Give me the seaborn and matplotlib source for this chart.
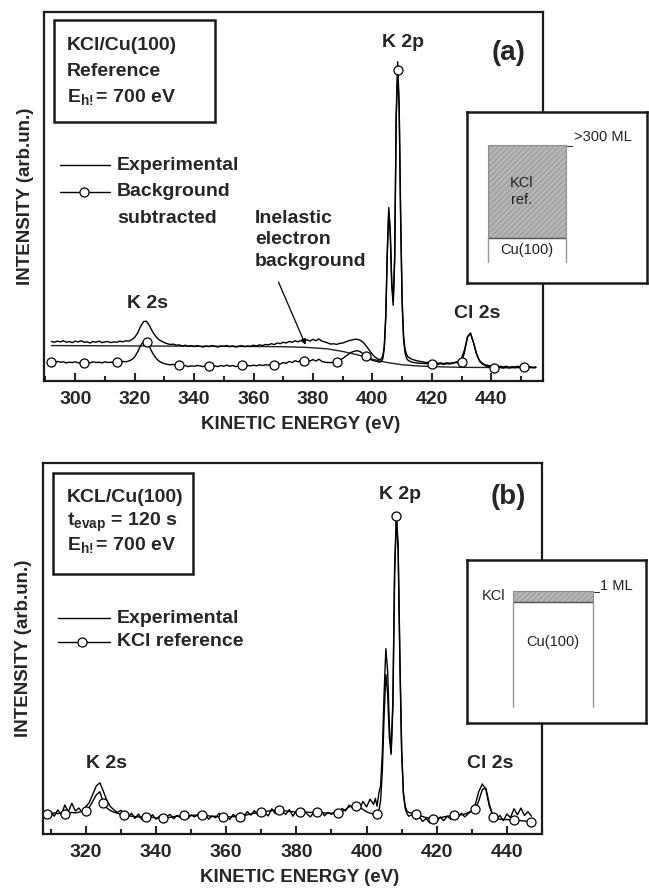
import numpy as np
import matplotlib
matplotlib.use("Agg")
import matplotlib.pyplot as plt
import seaborn as sns
from matplotlib.patches import Rectangle
from matplotlib.lines import Line2D
from matplotlib.ticker import MultipleLocator

# ---------------- data: panel (a), KCl reference film ----------------
energy_a = np.concatenate([np.arange(292, 402, 1.0),
                           np.arange(402, 412, 0.5),
                           np.arange(412, 456, 1.0)])

experimental_a = [
    10.7, 10.5, 10.8, 10.6, 10.9, 10.5, 10.7, 10.4, 10.8, 10.6,   # 292-301
    10.9, 10.5, 10.6, 10.3, 10.7, 10.5, 10.8, 10.4, 10.6, 10.7,   # 302-311
    10.4, 10.6, 10.5, 10.8, 10.6, 10.9, 10.8, 11.2, 11.8, 13.0,   # 312-321
    14.8, 16.1, 16.2, 15.0, 13.4, 12.2, 11.3, 10.8, 10.4, 10.1,   # 322-331
    9.9, 10.0, 9.7, 9.8, 9.5, 9.7, 9.4, 9.6, 9.3, 9.6,            # 332-341
    9.4, 9.2, 9.5, 9.3, 9.6, 9.4, 9.2, 9.5, 9.4, 9.6,             # 342-351
    9.3, 9.5, 9.2, 9.4, 9.6, 9.3, 9.5, 9.4, 9.7, 9.5,             # 352-361
    9.8, 9.6, 9.9, 9.8, 10.1, 9.9, 10.3, 10.1, 10.5, 10.3,        # 362-371
    10.7, 10.5, 10.9, 10.6, 11.0, 10.7, 11.2, 10.8, 11.3, 10.9,   # 372-381
    11.4, 10.8, 10.6, 10.3, 10.0, 10.1, 9.9, 10.2, 10.3, 10.6,    # 382-391
    10.9, 11.1, 11.3, 11.3, 11.0, 10.4, 9.4, 8.3, 7.2, 6.4,       # 392-401
    5.9, 5.8, 6.0, 6.8, 9.5, 18.0, 35.0, 47.0, 41.0, 27.0,        # 402-406.5
    21.5, 34.0, 72.0, 86.5, 75.0, 45.0, 22.0, 12.0, 8.5, 7.2,     # 407-411.5
    6.5, 6.0, 5.7, 5.5, 5.3, 5.2, 5.0, 5.1, 4.9, 5.0,             # 412-421
    4.8, 4.9, 4.7, 4.9, 4.8, 4.9, 5.1, 5.4, 6.2, 8.5,             # 422-431
    12.0, 13.0, 10.5, 7.5, 5.6, 4.8, 4.4, 4.2, 4.0, 4.1,          # 432-441
    3.9, 4.0, 3.8, 4.0, 3.7, 3.9, 3.8, 4.0, 3.7, 3.9,             # 442-451
    3.6, 3.9, 3.7, 3.8,                                           # 452-455
]

subtracted_a = [
    5.2, 5.0, 5.3, 5.1, 5.2, 4.9, 5.1, 5.0, 5.2, 4.9,
    5.1, 4.8, 5.0, 4.9, 5.2, 5.0, 5.1, 4.9, 5.2, 5.0,
    5.1, 5.0, 5.2, 5.0, 5.3, 5.2, 5.4, 5.8, 6.5, 7.9,
    9.6, 10.7, 10.6, 9.3, 7.6, 6.4, 5.5, 5.0, 4.7, 4.5,
    4.4, 4.5, 4.2, 4.3, 4.0, 4.2, 3.9, 4.1, 4.0, 4.2,
    4.1, 3.9, 4.2, 4.0, 4.2, 4.1, 3.9, 4.2, 4.0, 4.3,
    4.0, 4.2, 3.9, 4.1, 4.3, 4.0, 4.2, 4.1, 4.3, 4.1,
    4.4, 4.2, 4.4, 4.3, 4.6, 4.4, 4.8, 4.6, 5.0, 4.8,
    5.3, 5.0, 5.5, 5.2, 5.6, 5.3, 5.8, 5.4, 5.8, 5.4,
    5.9, 5.3, 5.1, 5.0, 5.0, 5.1, 5.2, 5.6, 6.1, 6.7,
    7.3, 7.8, 8.1, 8.2, 7.9, 7.2, 6.7, 6.0, 5.6, 5.4,
    5.2, 5.1, 5.3, 6.0, 8.8, 17.0, 34.0, 46.0, 40.0, 26.0,
    20.5, 33.0, 71.0, 84.3, 74.0, 44.0, 21.0, 11.0, 7.5, 6.2,
    5.6, 5.2, 5.0, 4.9, 4.8, 4.8, 4.7, 4.8, 4.6, 4.7,
    4.5, 4.7, 4.5, 4.7, 4.6, 4.8, 5.0, 4.9, 5.2, 7.8,
    11.9, 12.9, 10.4, 7.4, 5.4, 4.6, 4.1, 3.9, 3.6, 3.6,
    3.5, 3.7, 3.5, 3.7, 3.5, 3.7, 3.6, 3.8, 3.6, 3.8,
    3.6, 3.8, 3.6, 3.7,
]

background_energy_a = [292, 320, 350, 370, 378, 385, 390, 395, 400, 405, 410, 415, 420, 430, 455]
background_a = [9.6, 9.5, 9.4, 9.3, 9.1, 8.7, 8.0, 7.1, 5.9, 5.0, 4.4, 4.1, 3.9, 3.7, 3.6]

markers_a = [292, 303, 314, 324, 335, 345, 356, 367, 377, 388, 398, 408.5, 420, 430, 441, 451]

# ---------------- data: panel (b), 120 s evaporation ----------------
energy_b = np.concatenate([np.arange(309, 402, 1.0),
                           np.arange(402, 412, 0.5),
                           np.arange(412, 448, 1.0)])

experimental_b = [
    5.0, 5.9, 4.8, 6.5, 5.2, 7.8, 6.0, 8.3, 6.2, 7.0,             # 309-318
    5.8, 7.4, 8.5, 10.8, 13.0, 13.8, 11.5, 9.0, 7.4, 6.5,         # 319-328
    5.8, 6.4, 5.2, 4.6, 5.6, 4.2, 5.4, 3.9, 5.0, 4.3,             # 329-338
    5.2, 4.0, 4.8, 3.7, 4.6, 5.3, 4.1, 5.0, 4.4, 5.5,             # 339-348
    4.2, 5.1, 4.6, 5.4, 4.3, 5.2, 4.0, 4.9, 4.4, 5.6,             # 349-358
    4.3, 5.0, 3.9, 5.3, 4.5, 5.7, 4.8, 6.0, 5.1, 6.3,             # 359-368
    5.2, 6.5, 5.6, 4.9, 6.8, 5.5, 7.2, 6.0, 5.3, 6.6,             # 369-378
    4.8, 6.2, 5.0, 6.7, 5.4, 4.6, 5.9, 5.1, 6.3, 4.9,             # 379-388
    5.8, 5.3, 6.1, 5.5, 6.9, 6.2, 7.8, 7.0, 8.4, 6.9,             # 389-398
    8.8, 7.3, 9.4,                                                # 399-401
    8.0, 9.6, 7.5, 11.0, 13.0, 22.0, 38.0, 50.0, 44.0, 29.0,      # 402-406.5
    22.0, 36.0, 72.0, 86.0, 78.0, 48.0, 23.0, 11.0, 7.0, 5.5,     # 407-411.5
    4.8, 5.2, 4.0, 4.6, 3.4, 4.2, 3.0, 4.4, 3.3, 4.6,             # 412-421
    3.6, 4.8, 4.0, 5.2, 4.4, 5.6, 4.6, 5.5, 6.4, 8.0,             # 422-431
    11.5, 13.5, 12.0, 7.5, 5.2, 4.0, 5.0, 3.6, 5.4, 4.4,          # 432-441
    6.8, 5.2, 7.0, 5.0, 6.0, 4.8,                                 # 442-447
]

reference_b = [
    5.4, 5.5, 5.7, 5.5, 5.6, 5.4, 5.6, 5.8, 5.7, 5.9,
    6.1, 6.3, 7.2, 8.9, 10.6, 11.4, 8.4, 7.0, 6.3, 5.9,
    5.6, 5.3, 5.0, 4.9, 4.8, 4.7, 4.6, 4.5, 4.5, 4.4,
    4.5, 4.3, 4.4, 4.2, 4.4, 4.5, 4.7, 4.8, 4.9, 5.0,
    4.9, 5.0, 5.1, 4.9, 5.0, 4.8, 4.9, 4.7, 4.8, 4.6,
    4.6, 4.7, 4.6, 4.7, 4.6, 4.6, 4.9, 5.2, 5.4, 5.6,
    5.7, 5.8, 6.0, 6.2, 6.3, 6.4, 6.5, 6.4, 6.2, 6.1,
    6.0, 5.9, 5.9, 5.8, 5.9, 5.8, 5.9, 5.9, 5.8, 5.7,
    5.6, 5.6, 5.5, 5.6, 6.0, 6.6, 7.3, 7.7, 7.6, 7.2,
    6.6, 6.0, 5.6,
    5.4, 5.3, 5.4, 6.2, 9.0, 17.0, 32.0, 43.0, 38.0, 26.0,
    21.5, 34.0, 70.0, 85.8, 76.0, 46.0, 22.0, 11.0, 7.5, 6.2,
    5.8, 5.6, 5.4, 5.0, 4.7, 4.4, 4.2, 4.0, 4.2, 4.4,
    4.6, 4.8, 4.9, 5.0, 5.1, 5.2, 5.4, 5.8, 6.2, 6.7,
    9.0, 12.0, 12.4, 8.0, 4.6, 4.2, 4.0, 3.9, 3.9, 3.8,
    3.8, 3.7, 3.6, 3.5, 3.4, 3.3,
]

markers_b = [309, 314, 320, 325, 331, 337, 342, 348, 353, 359, 364, 370, 375,
             381, 386, 392, 397, 403, 408.5, 414, 419, 425, 431, 436, 442, 447]

xlim_a = (289.5, 457.4)
xlim_b = (307.7, 450.0)

# ---------------- style ----------------
sns.set_style("ticks")
plt.rcParams["font.family"] = ["Liberation Sans", "DejaVu Sans"]
plt.rcParams["font.weight"] = "bold"
plt.rcParams["mathtext.fontset"] = "custom"
plt.rcParams["mathtext.rm"] = "Liberation Sans:bold"
plt.rcParams["mathtext.it"] = "Liberation Sans:bold"
plt.rcParams["mathtext.bf"] = "Liberation Sans:bold"

W, H = 649, 890
fig = plt.figure(figsize=(W / 100, H / 100), dpi=100)


def fx(px):
    return px / W


def fy(py):
    return 1 - py / H


def add_axes_px(x0, y0, x1, y1, **kw):
    return fig.add_axes([fx(x0), fy(y1), (x1 - x0) / W, (y1 - y0) / H], **kw)


def nearest_index(energy, targets):
    return [int(np.argmin(np.abs(energy - t))) for t in targets]


def fig_text(px, py, s, **kw):
    kw.setdefault("fontsize", 14)
    kw.setdefault("fontweight", "bold")
    kw.setdefault("va", "center")
    kw.setdefault("ha", "left")
    return fig.text(fx(px), fy(py), s, **kw)


def fig_line(xs, ys, **kw):
    ln = Line2D([fx(x) for x in xs], [fy(y) for y in ys], transform=fig.transFigure, **kw)
    fig.add_artist(ln)
    return ln


def fig_rect(x0, y0, x1, y1, **kw):
    r = Rectangle((fx(x0), fy(y1)), (x1 - x0) / W, (y1 - y0) / H,
                  transform=fig.transFigure, **kw)
    fig.add_artist(r)
    return r


def style_axes(ax, xlim):
    ax.set_xlim(*xlim)
    ax.set_ylim(0, 100)
    ax.set_yticks([])
    ax.xaxis.set_major_locator(MultipleLocator(20))
    ax.xaxis.set_minor_locator(MultipleLocator(10))
    ax.tick_params(axis="x", which="major", direction="in", length=6, width=1.5,
                   labelsize=14, pad=7, top=False)
    ax.tick_params(axis="x", which="minor", direction="in", length=3.5, width=1.5, top=False)
    for lab in ax.get_xticklabels():
        lab.set_fontweight("bold")
    for sp in ax.spines.values():
        sp.set_linewidth(1.6)
        sp.set_color("#1a1a1a")
        sp.set_visible(True)
    ax.set_xlabel("KINETIC ENERGY (eV)", fontsize=13.5, fontweight="bold")
    ax.xaxis.set_label_coords(0.515, -0.117)
    ax.set_ylabel("INTENSITY (arb.un.)", fontsize=13.5, fontweight="bold")
    ax.yaxis.set_label_coords(-0.038, 0.5)
    ax.xaxis.label.set_va("center")
    ax.yaxis.label.set_va("center")


marker_kw = dict(marker="o", markersize=6.5, markerfacecolor="white",
                 markeredgecolor="black", markeredgewidth=0.9)

# ---------------- panel (a) ----------------
ax_a = add_axes_px(44, 12, 543, 381)
sns.lineplot(x=background_energy_a, y=background_a, ax=ax_a, color="#222222",
             lw=1.0, estimator=None, sort=False)
sns.lineplot(x=energy_a, y=experimental_a, ax=ax_a, color="black", lw=1.0,
             estimator=None, sort=False)
sns.lineplot(x=energy_a, y=subtracted_a, ax=ax_a, color="black", lw=1.0,
             estimator=None, sort=False, markevery=nearest_index(energy_a, markers_a),
             **marker_kw)
style_axes(ax_a, xlim_a)

ax_a.text(410.2, 91.6, "K 2p", ha="center", va="center", fontsize=14, fontweight="bold")
ax_a.text(324.4, 21.1, "K 2s", ha="center", va="center", fontsize=14, fontweight="bold")
ax_a.text(435.1, 18.2, "Cl 2s", ha="center", va="center", fontsize=14, fontweight="bold")
ax_a.annotate("", xy=(377.5, 9.8), xytext=(368.4, 26.8),
              arrowprops=dict(arrowstyle="-|>", lw=0.9, color="black",
                              mutation_scale=8, shrinkA=0, shrinkB=0))

# ---------------- panel (b) ----------------
ax_b = add_axes_px(42.7, 463.3, 542, 834)
sns.lineplot(x=energy_b, y=experimental_b, ax=ax_b, color="black", lw=1.0,
             estimator=None, sort=False)
sns.lineplot(x=energy_b, y=reference_b, ax=ax_b, color="black", lw=1.0,
             estimator=None, sort=False, markevery=nearest_index(energy_b, markers_b),
             **marker_kw)
style_axes(ax_b, xlim_b)

ax_b.text(409.4, 91.7, "K 2p", ha="center", va="center", fontsize=14, fontweight="bold")
ax_b.text(326.0, 19.0, "K 2s", ha="center", va="center", fontsize=14, fontweight="bold")
ax_b.text(435.2, 19.0, "Cl 2s", ha="center", va="center", fontsize=14, fontweight="bold")

# ---------------- panel labels, info boxes, legends ----------------
fig_text(509, 53, "(a)", fontsize=20, ha="center")
fig_text(508, 497, "(b)", fontsize=20, ha="center")

fig_rect(54.3, 20, 215, 121.7, fill=False, lw=1.8, edgecolor="#1a1a1a")
fig_text(66.7, 45, "KCl/Cu(100)")
fig_text(66.7, 71, "Reference")
fig_text(66.7, 97, r"E$_{\mathrm{h!}}$= 700 eV")

fig_rect(52.7, 472.7, 193.3, 574, fill=False, lw=1.8, edgecolor="#1a1a1a")
fig_text(66.7, 498, "KCL/Cu(100)")
fig_text(66.7, 522, r"t$_{\mathrm{evap}}$ = 120 s")
fig_text(66.7, 545, r"E$_{\mathrm{h!}}$= 700 eV")

fig_line([60, 110], [165, 165], color="black", lw=1.0)
fig_text(117, 165, "Experimental")
fig_line([60, 110], [192, 192], color="black", lw=1.0)
fig_line([84], [192], color="black", lw=0, **marker_kw)
fig_text(117, 192, "Background")
fig_text(117, 218, "subtracted")

fig_text(255, 218, "Inelastic")
fig_text(255, 240, "electron")
fig_text(255, 262, "background")

fig_line([58.3, 110], [618.3, 618.3], color="black", lw=1.0)
fig_text(116.7, 618.3, "Experimental")
fig_line([58.3, 110], [641.7, 641.7], color="black", lw=1.0)
fig_line([82], [641.7], color="black", lw=0, **marker_kw)
fig_text(116.7, 641.7, "KCl reference")

# ---------------- layer-structure sketches ----------------
hatch_kw = dict(facecolor="#b5b5b5", edgecolor="#8c8c8c", hatch="//////", lw=0.8)
plt.rcParams["hatch.linewidth"] = 0.5


def sketch_axes(x0, y0, x1, y1):
    ins = add_axes_px(x0, y0, x1, y1, zorder=5)
    ins.set_xlim(x0, x1)
    ins.set_ylim(y1, y0)
    ins.set_facecolor("white")
    for sp in ins.spines.values():
        sp.set_linewidth(1.8)
        sp.set_color("#1a1a1a")
        sp.set_visible(True)
    ins.set_xticks([])
    ins.set_yticks([])
    return ins


ins_a = sketch_axes(466.7, 111.7, 646.7, 283.3)
ins_a.add_patch(Rectangle((488.3, 145), 566 - 488.3, 237.7 - 145, **hatch_kw))
ins_a.plot([488.3, 566], [237.7, 237.7], color="#555555", lw=1.0)
ins_a.plot([488.3, 488.3], [237.7, 262.3], color="#999999", lw=1.0)
ins_a.plot([566, 566], [237.7, 262.3], color="#999999", lw=1.0)
ins_a.plot([567, 572], [145.5, 145.5], color="#333333", lw=0.8)
ins_a.text(521.7, 182.7, "KCl", ha="center", va="center", fontsize=10.5, fontweight="normal", color="#222222")
ins_a.text(521.7, 200, "ref.", ha="center", va="center", fontsize=10.5, fontweight="normal", color="#222222")
ins_a.text(527, 250, "Cu(100)", ha="center", va="center", fontsize=10.5, fontweight="normal", color="#222222")
ins_a.text(574, 137, ">300 ML", ha="left", va="center", fontsize=10.5, fontweight="normal", color="#222222")

ins_b = sketch_axes(467.3, 560, 646, 723.3)
ins_b.add_patch(Rectangle((513.3, 590.7), 592.7 - 513.3, 602.3 - 590.7, **hatch_kw))
ins_b.plot([513.3, 592.7], [602.3, 602.3], color="#555555", lw=1.0)
ins_b.plot([513.3, 513.3], [602.3, 706.7], color="#999999", lw=1.0)
ins_b.plot([592.7, 592.7], [602.3, 706.7], color="#999999", lw=1.0)
ins_b.plot([593.5, 598.5], [591.5, 591.5], color="#333333", lw=0.8)
ins_b.text(494, 596, "KCl", ha="center", va="center", fontsize=10.5, fontweight="normal", color="#222222")
ins_b.text(600, 586, "1 ML", ha="left", va="center", fontsize=10.5, fontweight="normal", color="#222222")
ins_b.text(553, 642, "Cu(100)", ha="center", va="center", fontsize=10.5, fontweight="normal", color="#222222")

fig.savefig("out.png", dpi=100)
